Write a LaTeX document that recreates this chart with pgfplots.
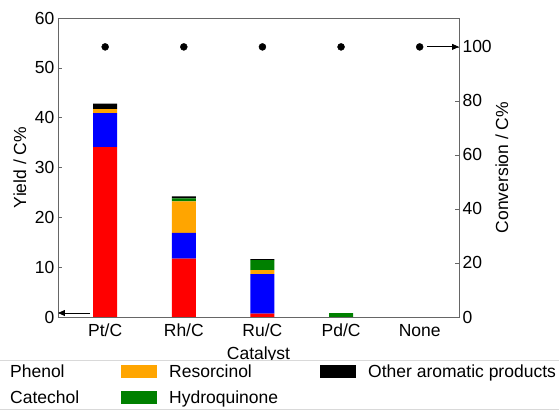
\documentclass[border=0pt]{standalone}
\usepackage{pgfplots}
\pgfplotsset{compat=1.18}
\usepackage{fontspec}
\setmainfont{Liberation Sans}
\usetikzlibrary{arrows.meta}
\definecolor{cOrange}{RGB}{255,165,0}
\definecolor{cGreen}{RGB}{0,128,0}
\begin{document}
\begin{tikzpicture}
\pgfplotsset{every axis/.append style={font=\fontsize{17.5pt}{21pt}\selectfont,
  /pgf/number format/assume math mode=true,
  axis line style={black!60}, every tick/.style={black!60, thin}}}
\begin{axis}[name=ax, scale only axis, width=401pt, height=299pt,
  xmin=-0.6, xmax=4.5, ymin=0, ymax=60,
  ybar stacked, bar width=24pt,
  xtick={0,1,2,3,4}, xticklabels={Pt/C,Rh/C,Ru/C,Pd/C,None},
  xtick style={draw=none},
  xticklabel style={yshift=-3.5pt},
  ytick={0,10,...,60}, ytick pos=left,
  ylabel={Yield / C\%}, xlabel={Catalyst},
  ylabel style={at={(axis description cs:-0.095,0.5)}, anchor=center},
  xlabel style={yshift=-3pt},
  legend columns=2, transpose legend,
  legend image code/.code={\fill[#1] (0pt,-6.5pt) rectangle (36pt,6.5pt);},
  legend style={at={(axis description cs:-0.247,-0.145)}, anchor=north west,
    draw=black!15, font=\fontsize{17.5pt}{21pt}\selectfont,
    row sep=8pt,
    /tikz/every odd column/.append style={column sep=10pt},
    /tikz/every even column/.append style={column sep=40pt}},
  legend cell align=left,
]
\addplot[fill=red, draw=none] coordinates {(0,34.1) (1,11.7) (2,0.7) (3,0) (4,0)};
\addplot[fill=blue, draw=none] coordinates {(0,6.8) (1,5.2) (2,7.9) (3,0) (4,0)};
\addplot[fill=cOrange, draw=none] coordinates {(0,0.8) (1,6.3) (2,0.8) (3,0) (4,0)};
\addplot[fill=cGreen, draw=none] coordinates {(0,0) (1,0.6) (2,2.0) (3,0.8) (4,0)};
\addplot[fill=black, draw=none] coordinates {(0,1.1) (1,0.4) (2,0.2) (3,0) (4,0)};
\legend{Phenol,Catechol,Resorcinol,Hydroquinone,Other aromatic products}
\draw[-{Triangle[length=7pt,width=6pt]}, thick] (axis cs:-0.19,0.8) -- (axis cs:-0.6,0.8);
\end{axis}
\begin{axis}[scale only axis, width=401pt, height=299pt,
  xmin=-0.6, xmax=4.5, ymin=0, ymax=110.7,
  axis x line=none, axis y line*=right,
  ytick={0,20,...,100},
  ylabel={Conversion / C\%},
  ylabel style={at={(axis description cs:1.107,0.5)}, anchor=center},
]
\addplot[only marks, mark=*, mark size=3.5pt, black] coordinates {(0,100) (1,100) (2,100) (3,100) (4,100)};
\draw[-{Triangle[length=7pt,width=6pt]}, thick] (axis cs:4.09,100) -- (axis cs:4.5,100);
\end{axis}
\pgfresetboundingbox
\path[use as bounding box] ([shift={(-58pt,-94pt)}]ax.south west) rectangle ([shift={(501pt,317pt)}]ax.south west);
\end{tikzpicture}
\end{document}
